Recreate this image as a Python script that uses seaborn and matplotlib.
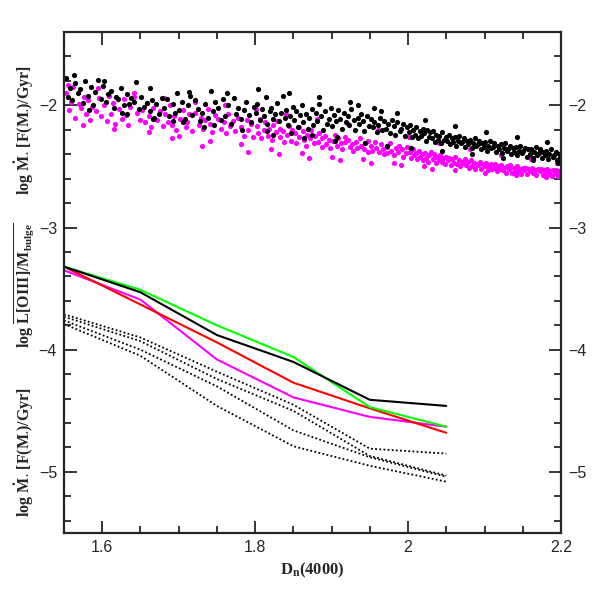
import matplotlib
matplotlib.use("Agg")
import matplotlib.pyplot as plt
import seaborn as sns
import pandas as pd
from matplotlib.ticker import MultipleLocator

# D_n(4000) bins for the curves
dn_bins = [1.55, 1.65, 1.75, 1.85, 1.95, 2.05]

# solid curves: log L[OIII]/M_bulge
oiii_black = [-3.32, -3.53, -3.88, -4.10, -4.41, -4.46]
oiii_green = [-3.32, -3.51, -3.80, -4.06, -4.47, -4.63]
oiii_red = [-3.32, -3.63, -3.94, -4.27, -4.48, -4.68]
oiii_magenta = [-3.35, -3.59, -4.08, -4.39, -4.55, -4.63]

# dotted curves: log Mdot_BH
mdot_d1 = [-3.71, -3.90, -4.18, -4.45, -4.81, -4.85]
mdot_d2 = [-3.73, -3.93, -4.24, -4.50, -4.87, -5.03]
mdot_d3 = [-3.76, -4.00, -4.30, -4.66, -4.88, -5.04]
mdot_d4 = [-3.79, -4.05, -4.46, -4.79, -4.95, -5.08]

# scatter, black points (D_n, log Mdot)
black_pts = [
    (1.552, -1.78), (1.555, -1.93), (1.558, -1.86), (1.561, -1.96), (1.564, -1.82), (1.568, -1.90),
    (1.571, -1.87), (1.575, -1.98), (1.578, -1.80), (1.582, -1.92), (1.585, -1.85), (1.588, -2.00),
    (1.591, -1.89), (1.594, -1.79), (1.598, -1.95), (1.601, -1.84), (1.605, -1.97), (1.608, -1.91),
    (1.612, -1.88), (1.615, -2.02), (1.618, -1.93), (1.621, -1.95), (1.624, -1.86), (1.628, -2.00),
    (1.632, -1.91), (1.635, -1.99), (1.638, -1.94), (1.641, -1.97), (1.644, -1.81), (1.648, -2.03),
    (1.651, -1.93), (1.655, -2.01), (1.659, -1.98), (1.662, -2.05), (1.665, -1.96), (1.668, -2.10),
    (1.671, -1.99), (1.674, -2.07), (1.678, -1.94), (1.681, -2.02), (1.685, -1.95), (1.688, -2.09),
    (1.692, -1.99), (1.695, -2.06), (1.698, -1.90), (1.701, -2.04), (1.705, -1.97), (1.708, -2.11),
    (1.712, -2.00), (1.715, -1.92), (1.718, -2.08), (1.721, -1.96), (1.725, -2.03), (1.728, -2.13),
    (1.731, -2.06), (1.734, -1.99), (1.738, -2.10), (1.742, -1.88), (1.745, -2.05), (1.748, -1.97),
    (1.751, -2.02), (1.755, -2.12), (1.758, -1.95), (1.761, -2.09), (1.765, -2.00), (1.768, -2.15),
    (1.772, -1.94), (1.775, -2.07), (1.778, -2.02), (1.781, -2.11), (1.785, -2.04), (1.788, -1.97),
    (1.792, -2.08), (1.795, -2.14), (1.798, -2.01),
    (1.801, -2.06), (1.803, -1.99), (1.806, -2.12), (1.809, -2.03), (1.811, -2.09), (1.814, -1.93),
    (1.816, -2.15), (1.819, -2.05), (1.821, -2.02), (1.823, -2.11), (1.826, -2.07), (1.829, -1.98),
    (1.831, -2.13), (1.834, -2.06), (1.836, -1.92), (1.839, -2.10), (1.841, -2.04), (1.843, -2.16),
    (1.846, -2.09), (1.849, -2.01), (1.851, -2.12), (1.854, -2.05), (1.856, -2.18), (1.859, -2.08),
    (1.861, -2.00), (1.863, -2.14), (1.866, -2.07), (1.869, -2.19), (1.871, -2.10), (1.874, -2.03),
    (1.876, -2.16), (1.879, -2.06), (1.881, -2.13), (1.883, -1.99), (1.886, -2.09), (1.889, -2.20),
    (1.891, -2.05), (1.894, -2.15), (1.896, -2.11), (1.899, -2.02), (1.901, -2.17), (1.903, -2.08),
    (1.906, -2.13), (1.909, -2.04), (1.911, -2.11), (1.914, -2.19), (1.916, -2.06), (1.919, -2.14),
    (1.921, -2.09), (1.923, -2.16), (1.926, -2.03), (1.929, -2.12), (1.931, -2.20), (1.934, -2.10),
    (1.936, -2.15), (1.939, -2.07), (1.941, -2.13), (1.943, -2.21), (1.946, -2.09), (1.949, -2.17),
    (1.951, -2.11), (1.954, -2.18), (1.956, -2.14), (1.959, -2.22), (1.961, -2.16), (1.963, -2.10),
    (1.966, -2.20), (1.969, -2.13), (1.971, -2.19), (1.974, -2.15), (1.976, -2.23), (1.979, -2.12),
    (1.981, -2.17), (1.983, -2.24), (1.986, -2.14), (1.989, -2.21), (1.991, -2.19), (1.993, -2.15),
    (1.996, -2.25), (1.999, -2.18),
    (2.001, -2.22), (2.003, -2.16), (2.005, -2.26), (2.007, -2.20), (2.009, -2.24),
    (2.011, -2.18), (2.013, -2.27), (2.015, -2.21), (2.017, -2.25), (2.019, -2.19),
    (2.021, -2.23), (2.023, -2.29), (2.025, -2.20), (2.027, -2.26), (2.029, -2.22),
    (2.031, -2.27), (2.033, -2.21), (2.035, -2.30), (2.037, -2.24), (2.039, -2.28),
    (2.041, -2.25), (2.043, -2.31), (2.045, -2.22), (2.047, -2.28), (2.049, -2.26),
    (2.051, -2.29), (2.053, -2.24), (2.055, -2.32), (2.057, -2.27), (2.059, -2.30),
    (2.061, -2.26), (2.063, -2.33), (2.065, -2.29), (2.067, -2.25), (2.069, -2.31),
    (2.071, -2.30), (2.073, -2.27), (2.075, -2.34), (2.077, -2.29), (2.079, -2.32),
    (2.081, -2.28), (2.083, -2.35), (2.085, -2.31), (2.087, -2.27), (2.089, -2.33),
    (2.091, -2.32), (2.093, -2.29), (2.095, -2.36), (2.097, -2.31), (2.099, -2.34),
    (2.101, -2.30), (2.103, -2.37), (2.105, -2.33), (2.107, -2.29), (2.109, -2.35),
    (2.111, -2.34), (2.113, -2.31), (2.115, -2.38), (2.117, -2.33), (2.119, -2.36),
    (2.121, -2.32), (2.123, -2.39), (2.125, -2.35), (2.127, -2.31), (2.129, -2.37),
    (2.131, -2.36), (2.133, -2.33), (2.135, -2.40), (2.137, -2.35), (2.139, -2.38),
    (2.141, -2.34), (2.143, -2.41), (2.145, -2.37), (2.147, -2.33), (2.149, -2.39),
    (2.151, -2.37), (2.153, -2.35), (2.155, -2.42), (2.157, -2.36), (2.159, -2.40),
    (2.161, -2.36), (2.163, -2.43), (2.165, -2.38), (2.167, -2.34), (2.169, -2.41),
    (2.171, -2.39), (2.173, -2.36), (2.175, -2.43), (2.177, -2.38), (2.179, -2.41),
    (2.181, -2.37), (2.183, -2.44), (2.185, -2.40), (2.187, -2.36), (2.189, -2.42),
    (2.191, -2.41), (2.193, -2.38), (2.195, -2.45), (2.197, -2.40), (2.199, -2.43),
    # outliers of the black cloud
    (1.563, -1.75), (1.583, -2.04), (1.603, -1.80), (1.633, -2.07), (1.663, -1.86), (1.693, -2.13),
    (1.713, -1.89), (1.733, -2.18), (1.763, -1.90), (1.783, -2.20), (1.804, -1.87), (1.824, -2.24),
    (1.844, -1.90), (1.864, -2.27), (1.884, -1.93), (1.904, -2.29), (1.924, -1.97), (1.944, -2.31),
    (1.955, -2.02), (1.972, -2.33), (1.985, -2.06), (2.004, -2.35), (2.022, -2.12), (2.044, -2.37),
    (2.062, -2.17), (2.084, -2.40), (2.102, -2.22), (2.124, -2.43), (2.142, -2.26), (2.164, -2.45),
    (2.182, -2.30), (2.196, -2.47), (1.815, -2.21), (1.847, -2.23), (1.875, -2.24), (1.907, -2.26),
    (1.935, -2.00), (1.965, -2.05), (1.746, -2.16), (1.706, -2.14), (1.666, -2.11), (1.626, -2.06),
]

# scatter, magenta points
magenta_pts = [
    (1.553, -1.90), (1.556, -2.04), (1.559, -1.97), (1.562, -1.85), (1.565, -2.10), (1.569, -1.99),
    (1.572, -2.02), (1.576, -1.93), (1.579, -2.07), (1.581, -1.96), (1.584, -2.12), (1.587, -2.01),
    (1.592, -2.05), (1.596, -1.94), (1.599, -2.09), (1.602, -2.00), (1.606, -2.13), (1.609, -1.92),
    (1.611, -2.07), (1.614, -1.98), (1.617, -2.15), (1.622, -2.03), (1.626, -2.11), (1.629, -1.95),
    (1.631, -2.08), (1.634, -2.16), (1.637, -2.01), (1.642, -1.93), (1.646, -2.06), (1.649, -2.12),
    (1.652, -2.04), (1.656, -2.14), (1.658, -1.98), (1.661, -2.09), (1.664, -2.18), (1.667, -2.02),
    (1.672, -2.12), (1.675, -2.05), (1.679, -2.17), (1.682, -2.07), (1.686, -2.14), (1.689, -2.00),
    (1.691, -2.16), (1.694, -2.09), (1.697, -2.20), (1.702, -2.11), (1.706, -2.04), (1.709, -2.18),
    (1.711, -2.14), (1.714, -2.07), (1.717, -2.21), (1.722, -2.06), (1.726, -2.16), (1.729, -2.10),
    (1.732, -2.19), (1.735, -2.12), (1.739, -2.03), (1.741, -2.15), (1.744, -2.22), (1.747, -2.08),
    (1.752, -2.11), (1.756, -2.19), (1.759, -2.14), (1.762, -2.23), (1.764, -2.07), (1.767, -2.17),
    (1.771, -2.13), (1.774, -2.21), (1.777, -2.10), (1.782, -2.18), (1.786, -2.25), (1.789, -2.12),
    (1.791, -2.20), (1.794, -2.15), (1.797, -2.26),
    (1.802, -2.17), (1.804, -2.23), (1.807, -2.11), (1.808, -2.27), (1.812, -2.20), (1.813, -2.14),
    (1.817, -2.25), (1.818, -2.19), (1.822, -2.28), (1.824, -2.16), (1.827, -2.22), (1.828, -2.13),
    (1.832, -2.19), (1.833, -2.26), (1.837, -2.21), (1.838, -2.30), (1.842, -2.24), (1.844, -2.17),
    (1.847, -2.29), (1.848, -2.20), (1.852, -2.23), (1.853, -2.31), (1.857, -2.18), (1.858, -2.26),
    (1.862, -2.21), (1.864, -2.28), (1.867, -2.33), (1.868, -2.24), (1.872, -2.27), (1.873, -2.20),
    (1.877, -2.31), (1.878, -2.25), (1.882, -2.30), (1.884, -2.23), (1.887, -2.34), (1.888, -2.27),
    (1.892, -2.25), (1.893, -2.32), (1.897, -2.28), (1.898, -2.35), (1.902, -2.29), (1.904, -2.24),
    (1.907, -2.33), (1.908, -2.27), (1.912, -2.31), (1.913, -2.36), (1.917, -2.26), (1.918, -2.30),
    (1.922, -2.28), (1.924, -2.34), (1.927, -2.32), (1.928, -2.37), (1.932, -2.30), (1.933, -2.35),
    (1.937, -2.27), (1.938, -2.33), (1.942, -2.36), (1.944, -2.31), (1.947, -2.38), (1.948, -2.29),
    (1.952, -2.33), (1.953, -2.37), (1.957, -2.30), (1.958, -2.35), (1.962, -2.38), (1.964, -2.32),
    (1.967, -2.36), (1.968, -2.40), (1.972, -2.34), (1.973, -2.39), (1.977, -2.31), (1.978, -2.37),
    (1.982, -2.41), (1.984, -2.35), (1.987, -2.38), (1.988, -2.33), (1.992, -2.36), (1.994, -2.42),
    (1.997, -2.39), (1.998, -2.34),
    (2.002, -2.38), (2.004, -2.43), (2.006, -2.36), (2.008, -2.41), (2.010, -2.39),
    (2.012, -2.44), (2.014, -2.37), (2.016, -2.42), (2.018, -2.40), (2.020, -2.45),
    (2.022, -2.39), (2.024, -2.43), (2.026, -2.46), (2.028, -2.41), (2.030, -2.38),
    (2.032, -2.44), (2.034, -2.40), (2.036, -2.47), (2.038, -2.42), (2.040, -2.45),
    (2.042, -2.41), (2.044, -2.46), (2.046, -2.43), (2.048, -2.48), (2.050, -2.42),
    (2.052, -2.45), (2.054, -2.43), (2.056, -2.49), (2.058, -2.44), (2.060, -2.47),
    (2.062, -2.42), (2.064, -2.48), (2.066, -2.45), (2.068, -2.50), (2.070, -2.46),
    (2.072, -2.47), (2.074, -2.44), (2.076, -2.49), (2.078, -2.46), (2.080, -2.51),
    (2.082, -2.45), (2.084, -2.50), (2.086, -2.47), (2.088, -2.52), (2.090, -2.48),
    (2.092, -2.49), (2.094, -2.46), (2.096, -2.52), (2.098, -2.48), (2.100, -2.50),
    (2.102, -2.47), (2.104, -2.53), (2.106, -2.50), (2.108, -2.48), (2.110, -2.52),
    (2.112, -2.51), (2.114, -2.48), (2.116, -2.54), (2.118, -2.50), (2.120, -2.52),
    (2.122, -2.49), (2.124, -2.53), (2.126, -2.51), (2.128, -2.55), (2.130, -2.50),
    (2.132, -2.52), (2.134, -2.49), (2.136, -2.55), (2.138, -2.51), (2.140, -2.53),
    (2.142, -2.50), (2.144, -2.54), (2.146, -2.52), (2.148, -2.56), (2.150, -2.51),
    (2.152, -2.53), (2.154, -2.51), (2.156, -2.56), (2.158, -2.52), (2.160, -2.54),
    (2.162, -2.51), (2.164, -2.55), (2.166, -2.53), (2.168, -2.57), (2.170, -2.52),
    (2.172, -2.54), (2.174, -2.52), (2.176, -2.57), (2.178, -2.53), (2.180, -2.55),
    (2.182, -2.52), (2.184, -2.56), (2.186, -2.54), (2.188, -2.58), (2.190, -2.53),
    (2.192, -2.55), (2.194, -2.53), (2.196, -2.58), (2.198, -2.54), (2.199, -2.56),
    # outliers of the magenta cloud
    (1.555, -1.83), (1.575, -2.16), (1.595, -1.86), (1.615, -2.19), (1.641, -1.90), (1.661, -2.22),
    (1.681, -1.94), (1.701, -2.25), (1.721, -1.97), (1.741, -2.29), (1.761, -2.00), (1.781, -2.32),
    (1.801, -2.03), (1.821, -2.36), (1.841, -2.07), (1.861, -2.39), (1.881, -2.11), (1.901, -2.42),
    (1.921, -2.15), (1.941, -2.44), (1.961, -2.20), (1.981, -2.47), (2.001, -2.26), (2.021, -2.50),
    (2.041, -2.31), (2.061, -2.53), (2.081, -2.36), (2.101, -2.55), (2.121, -2.41), (2.141, -2.57),
    (2.161, -2.44), (2.181, -2.59), (2.195, -2.47), (1.791, -2.38), (1.831, -2.40), (1.871, -2.43),
    (1.911, -2.45), (1.951, -2.47), (1.991, -2.49), (2.031, -2.52), (1.731, -2.33), (1.691, -2.27),
]

sns.set_style("ticks")
plt.rcParams["font.family"] = ["Liberation Sans", "DejaVu Sans"]
plt.rcParams["mathtext.fontset"] = "custom"
plt.rcParams["mathtext.rm"] = "Liberation Serif:bold"
plt.rcParams["mathtext.it"] = "Liberation Serif:bold"
plt.rcParams["mathtext.bf"] = "Liberation Serif:bold"

fig = plt.figure(figsize=(5.99, 5.99), dpi=100)
ax = fig.add_axes([0.1068, 0.1102, 0.8297, 0.8364])

mag_df = pd.DataFrame(magenta_pts, columns=["dn", "mdot"])
blk_df = pd.DataFrame(black_pts, columns=["dn", "mdot"])
sns.scatterplot(data=mag_df, x="dn", y="mdot", color="#ff00ff", s=14, linewidth=0, ax=ax)
sns.scatterplot(data=blk_df, x="dn", y="mdot", color="black", s=14, linewidth=0, ax=ax)

for ys in [mdot_d1, mdot_d2, mdot_d3, mdot_d4]:
    sns.lineplot(x=dn_bins, y=ys, color="black", lw=1.3, linestyle=(0, (1, 1.3)), ax=ax)

for ys, col in [(oiii_magenta, "#ff00ff"), (oiii_red, "#ff0000"),
                (oiii_green, "#00ff00"), (oiii_black, "black")]:
    sns.lineplot(x=dn_bins, y=ys, color=col, lw=1.5, ax=ax)

ax.set_xlim(1.55, 2.2)
ax.set_ylim(-5.5, -1.4)
ax.xaxis.set_major_locator(MultipleLocator(0.2))
ax.xaxis.set_minor_locator(MultipleLocator(0.05))
ax.yaxis.set_major_locator(MultipleLocator(1))
ax.yaxis.set_minor_locator(MultipleLocator(0.2))
ax.set_xticks([1.6, 1.8, 2.0, 2.2])
ax.set_xticklabels(["1.6", "1.8", "2", "2.2"])
ax.tick_params(which="both", direction="in", top=True, right=True,
               labelright=True, width=1.3, labelsize=11.5, pad=5)
ax.tick_params(which="major", length=9)
ax.tick_params(which="minor", length=5)
for sp in ax.spines.values():
    sp.set_linewidth(1.6)
    sp.set_visible(True)

ax.set_xlabel(r"$\mathrm{D_n(4000)}$", fontsize=12, labelpad=4)
ax.set_ylabel("")

lab = dict(rotation=90, ha="center", va="center", fontsize=11.5)
fig.text(0.040, 1 - 130 / 599, r"$\mathrm{log\ \dot{M}_{\bullet}\ [F(M_{\bullet})/Gyr]}$", **lab)
fig.text(0.040, 1 - 285 / 599, r"$\mathrm{log\ \overline{L[OIII]/M_{bulge}}}$", **lab)
fig.text(0.040, 1 - 452 / 599, r"$\mathrm{log\ \dot{M}_{\bullet}\ [F(M_{\bullet})/Gyr]}$", **lab)

fig.savefig("out.png", dpi=100)
